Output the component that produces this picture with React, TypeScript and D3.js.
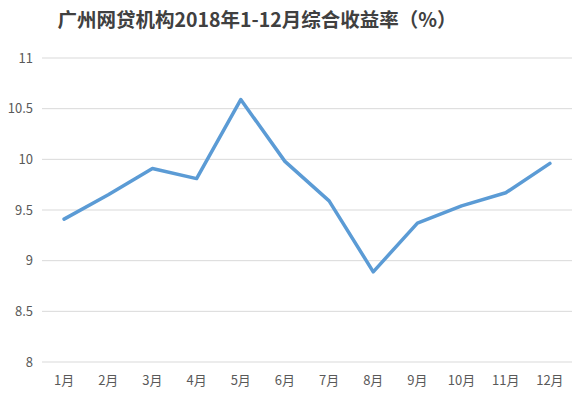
import { useEffect, useRef } from 'react'
import * as d3 from 'd3'

const months = ['1月', '2月', '3月', '4月', '5月', '6月', '7月', '8月', '9月', '10月', '11月', '12月']
const rates = [9.41, 9.65, 9.91, 9.81, 10.59, 9.98, 9.59, 8.89, 9.37, 9.54, 9.67, 9.96]
const yTicks = [8, 8.5, 9, 9.5, 10, 10.5, 11]
const title = '广州网贷机构2018年1-12月综合收益率（%）'

export default function App() {
  const ref = useRef<SVGSVGElement | null>(null)
  useEffect(() => {
    const width = 588
    const height = 397
    const svg = d3.select(ref.current)
    svg.selectAll('*').remove()
    svg.attr('width', width).attr('height', height).style('display', 'block').style('background', '#fff')
    const font = '"Noto Sans CJK SC", "Noto Sans", sans-serif'

    const margin = { top: 58, right: 16, bottom: 35, left: 42 }
    const innerW = width - margin.left - margin.right
    const innerH = height - margin.top - margin.bottom
    const g = svg.append('g').attr('transform', `translate(${margin.left},${margin.top})`)

    const x = d3.scaleBand().domain(months).range([0, innerW])
    const y = d3.scaleLinear().domain([8, 11]).range([innerH, 0])

    svg
      .append('text')
      .attr('x', 257)
      .attr('y', 27)
      .attr('text-anchor', 'middle')
      .attr('font-family', font)
      .attr('font-size', 19.5)
      .attr('font-weight', 'bold')
      .attr('fill', '#404040')
      .text(title)

    g.selectAll('line.grid')
      .data(yTicks)
      .enter()
      .append('line')
      .attr('x1', 0)
      .attr('x2', innerW)
      .attr('y1', (d) => y(d))
      .attr('y2', (d) => y(d))
      .attr('stroke', '#d9d9d9')
      .attr('stroke-width', 1)

    g.selectAll('text.ytick')
      .data(yTicks)
      .enter()
      .append('text')
      .attr('x', -9)
      .attr('y', (d) => y(d))
      .attr('dy', '0.35em')
      .attr('text-anchor', 'end')
      .attr('font-family', font)
      .attr('font-size', 13)
      .attr('fill', '#595959')
      .text((d) => String(d))

    g.selectAll('text.xtick')
      .data(months)
      .enter()
      .append('text')
      .attr('x', (d) => (x(d) ?? 0) + x.bandwidth() / 2)
      .attr('y', innerH + 23)
      .attr('text-anchor', 'middle')
      .attr('font-family', font)
      .attr('font-size', 13)
      .attr('fill', '#595959')
      .text((d) => d)

    const line = d3
      .line<number>()
      .x((_, i) => (x(months[i]) ?? 0) + x.bandwidth() / 2)
      .y((d) => y(d))

    g.append('path')
      .datum(rates)
      .attr('fill', 'none')
      .attr('stroke', '#5b9bd5')
      .attr('stroke-width', 3.5)
      .attr('stroke-linejoin', 'round')
      .attr('stroke-linecap', 'round')
      .attr('d', line)
  }, [])
  return <svg ref={ref} style={{ position: 'absolute', left: 0, top: 0 }} />
}
